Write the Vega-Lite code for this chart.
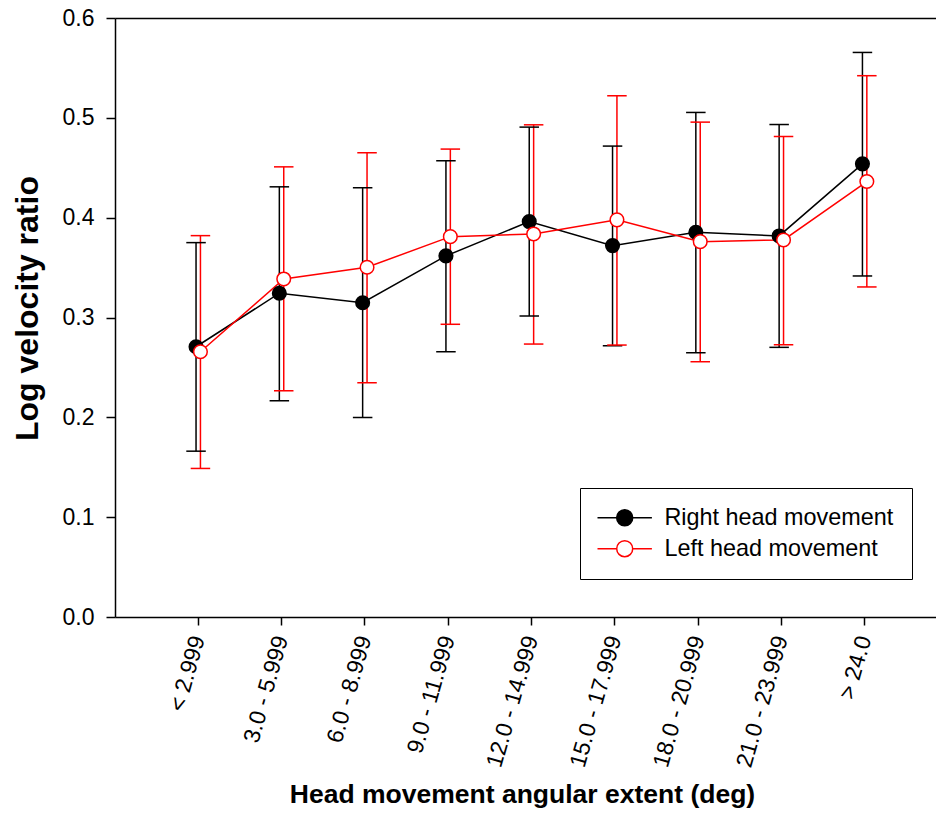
{
  "$schema": "https://vega.github.io/schema/vega-lite/v6.json",
  "width": 821,
  "height": 599,
  "autosize": "none",
  "padding": {"left": 115, "top": 18, "right": 0, "bottom": 197},
  "background": "white",
  "data": {
    "values": [
      {"idx": 1, "cat": "< 2.999", "series": "Right head movement", "mean": 0.2707, "lo": 0.1661, "hi": 0.375},
      {"idx": 2, "cat": "3.0 - 5.999", "series": "Right head movement", "mean": 0.3243, "lo": 0.2166, "hi": 0.4309},
      {"idx": 3, "cat": "6.0 - 8.999", "series": "Right head movement", "mean": 0.3148, "lo": 0.1999, "hi": 0.4299},
      {"idx": 4, "cat": "9.0 - 11.999", "series": "Right head movement", "mean": 0.3617, "lo": 0.2657, "hi": 0.457},
      {"idx": 5, "cat": "12.0 - 14.999", "series": "Right head movement", "mean": 0.3961, "lo": 0.3015, "hi": 0.4907},
      {"idx": 6, "cat": "15.0 - 17.999", "series": "Right head movement", "mean": 0.372, "lo": 0.2717, "hi": 0.4717},
      {"idx": 7, "cat": "18.0 - 20.999", "series": "Right head movement", "mean": 0.3854, "lo": 0.2647, "hi": 0.5054},
      {"idx": 8, "cat": "21.0 - 23.999", "series": "Right head movement", "mean": 0.3817, "lo": 0.2701, "hi": 0.4933},
      {"idx": 9, "cat": "> 24.0", "series": "Right head movement", "mean": 0.4539, "lo": 0.3416, "hi": 0.5655},
      {"idx": 1, "cat": "< 2.999", "series": "Left head movement", "mean": 0.2657, "lo": 0.1488, "hi": 0.382},
      {"idx": 2, "cat": "3.0 - 5.999", "series": "Left head movement", "mean": 0.3386, "lo": 0.2266, "hi": 0.4509},
      {"idx": 3, "cat": "6.0 - 8.999", "series": "Left head movement", "mean": 0.3503, "lo": 0.2346, "hi": 0.465},
      {"idx": 4, "cat": "9.0 - 11.999", "series": "Left head movement", "mean": 0.381, "lo": 0.2932, "hi": 0.4687},
      {"idx": 5, "cat": "12.0 - 14.999", "series": "Left head movement", "mean": 0.3837, "lo": 0.2734, "hi": 0.493},
      {"idx": 6, "cat": "15.0 - 17.999", "series": "Left head movement", "mean": 0.3978, "lo": 0.2724, "hi": 0.5221},
      {"idx": 7, "cat": "18.0 - 20.999", "series": "Left head movement", "mean": 0.376, "lo": 0.2557, "hi": 0.4957},
      {"idx": 8, "cat": "21.0 - 23.999", "series": "Left head movement", "mean": 0.3777, "lo": 0.2727, "hi": 0.4813},
      {"idx": 9, "cat": "> 24.0", "series": "Left head movement", "mean": 0.4362, "lo": 0.3306, "hi": 0.5422}
    ]
  },
  "config": {
    "font": "Liberation Sans",
    "view": {"stroke": null},
    "axis": {
      "domainColor": "black",
      "tickColor": "black",
      "labelColor": "black",
      "titleColor": "black",
      "grid": false,
      "domainWidth": 1.5,
      "tickWidth": 1.5,
      "labelFont": "Liberation Sans",
      "titleFont": "Liberation Sans"
    }
  },
  "resolve": {"axis": {"x": "independent"}},
  "layer": [
    {
      "mark": {"type": "rule", "strokeWidth": 1.5, "opacity": 1},
      "encoding": {
        "x": {
          "field": "cat", "type": "nominal",
          "sort": ["< 2.999", "3.0 - 5.999", "6.0 - 8.999", "9.0 - 11.999", "12.0 - 14.999", "15.0 - 17.999", "18.0 - 20.999", "21.0 - 23.999", "> 24.0"],
          "scale": {"paddingInner": 0, "paddingOuter": 0.428, "align": 0.584},
          "axis": {
            "orient": "bottom",
            "labelAngle": -74,
            "labelAlign": "right",
            "labelBaseline": "middle",
            "labelFontSize": 23,
            "labelPadding": 11,
            "tickSize": 8,
            "title": "Head movement angular extent (deg)",
            "titleFontSize": 26.5,
            "titleFontWeight": "bold",
            "titleX": 407,
            "titleY": 177,
            "titleBaseline": "middle",
            "titleAlign": "center"
          }
        },
        "xOffset": {"field": "series", "type": "nominal", "scale": {"type": "point", "domain": ["Right head movement", "Left head movement"], "range": [37.2, 46]}},
        "y": {
          "field": "lo", "type": "quantitative", "title": "Log velocity ratio",
          "scale": {"domain": [0, 0.6], "nice": false, "zero": false},
          "axis": {
            "values": [0, 0.1, 0.2, 0.3, 0.4, 0.5, 0.6],
            "format": ".1f",
            "labelFontSize": 23,
            "labelPadding": 12,
            "tickSize": 9,
            "titleFontSize": 32,
            "titleFontWeight": "bold",
            "titleX": -88,
            "titleY": 290,
            "titleAngle": -90,
            "titleBaseline": "middle",
            "titleAlign": "center"
          }
        },
        "y2": {"field": "hi"},
        "stroke": {"field": "series", "type": "nominal", "scale": {"domain": ["Right head movement", "Left head movement"], "range": ["black", "red"]}}
      }
    },
    {
      "mark": {"type": "tick", "size": 18, "thickness": 0.01, "filled": false, "strokeWidth": 1.5, "opacity": 1},
      "encoding": {
        "x": {
          "field": "cat", "type": "nominal",
          "sort": ["< 2.999", "3.0 - 5.999", "6.0 - 8.999", "9.0 - 11.999", "12.0 - 14.999", "15.0 - 17.999", "18.0 - 20.999", "21.0 - 23.999", "> 24.0"],
          "axis": {"orient": "top", "labels": false, "ticks": false, "title": null, "domain": true}
        },
        "xOffset": {"field": "series", "type": "nominal"},
        "y": {"field": "hi", "type": "quantitative", "title": "Log velocity ratio"},
        "stroke": {"field": "series", "type": "nominal"}
      }
    },
    {
      "mark": {"type": "tick", "size": 18, "thickness": 0.01, "filled": false, "strokeWidth": 1.5, "opacity": 1},
      "encoding": {
        "x": {
          "field": "cat", "type": "nominal",
          "sort": ["< 2.999", "3.0 - 5.999", "6.0 - 8.999", "9.0 - 11.999", "12.0 - 14.999", "15.0 - 17.999", "18.0 - 20.999", "21.0 - 23.999", "> 24.0"],
          "axis": null
        },
        "xOffset": {"field": "series", "type": "nominal"},
        "y": {"field": "lo", "type": "quantitative", "title": "Log velocity ratio"},
        "stroke": {"field": "series", "type": "nominal"}
      }
    },
    {
      "mark": {"type": "line", "strokeWidth": 1.5, "opacity": 1},
      "encoding": {
        "x": {
          "field": "cat", "type": "nominal",
          "sort": ["< 2.999", "3.0 - 5.999", "6.0 - 8.999", "9.0 - 11.999", "12.0 - 14.999", "15.0 - 17.999", "18.0 - 20.999", "21.0 - 23.999", "> 24.0"],
          "axis": null
        },
        "xOffset": {"field": "series", "type": "nominal"},
        "y": {"field": "mean", "type": "quantitative", "title": "Log velocity ratio"},
        "stroke": {"field": "series", "type": "nominal"},
        "order": {"field": "idx", "type": "quantitative"}
      }
    },
    {
      "mark": {"type": "circle", "size": 185, "strokeWidth": 1.5, "opacity": 1},
      "encoding": {
        "x": {
          "field": "cat", "type": "nominal",
          "sort": ["< 2.999", "3.0 - 5.999", "6.0 - 8.999", "9.0 - 11.999", "12.0 - 14.999", "15.0 - 17.999", "18.0 - 20.999", "21.0 - 23.999", "> 24.0"],
          "axis": null
        },
        "xOffset": {"field": "series", "type": "nominal"},
        "y": {"field": "mean", "type": "quantitative", "title": "Log velocity ratio"},
        "fill": {
          "field": "series", "type": "nominal",
          "scale": {"domain": ["Right head movement", "Left head movement"], "range": ["black", "white"]},
          "legend": {
            "title": null, "orient": "none", "legendX": 465, "legendY": 470,
            "symbolType": "M-3.4,0L-1,0M1,0L3.4,0M1,0A1,1,0,1,1,-1,0A1,1,0,1,1,1,0Z",
            "symbolSize": 256, "symbolStrokeWidth": 1.5, "symbolOffset": 15, "symbolOpacity": 1,
            "labelOffset": 28, "labelFontSize": 23.4, "labelColor": "black", "labelLimit": 400,
            "labelFont": "Liberation Sans",
            "strokeColor": "black", "fillColor": "white", "padding": 18, "rowPadding": 6
          }
        },
        "stroke": {
          "field": "series", "type": "nominal",
          "legend": {
            "title": null, "orient": "none", "legendX": 465, "legendY": 470,
            "symbolType": "M-3.4,0L-1,0M1,0L3.4,0M1,0A1,1,0,1,1,-1,0A1,1,0,1,1,1,0Z",
            "symbolSize": 256, "symbolStrokeWidth": 1.5, "symbolOffset": 15, "symbolOpacity": 1,
            "labelOffset": 28, "labelFontSize": 23.4, "labelColor": "black", "labelLimit": 400,
            "labelFont": "Liberation Sans",
            "strokeColor": "black", "fillColor": "white", "padding": 18, "rowPadding": 6
          }
        }
      }
    }
  ]
}
